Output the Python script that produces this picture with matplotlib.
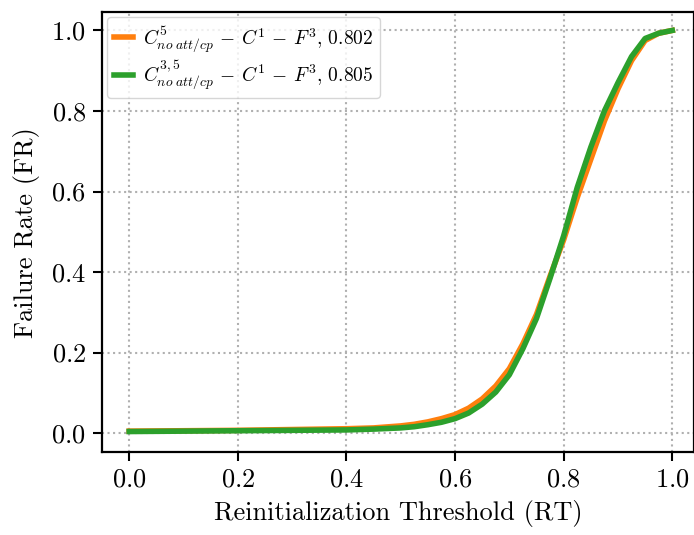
import matplotlib
matplotlib.use("Agg")
import matplotlib.pyplot as plt

plt.rcParams["font.family"] = "serif"
plt.rcParams["font.serif"] = ["cmr10", "DejaVu Serif"]
plt.rcParams["mathtext.fontset"] = "cm"
plt.rcParams["axes.formatter.use_mathtext"] = True

# reinitialization thresholds
rt = [0.0, 0.05, 0.1, 0.15, 0.2, 0.25, 0.3, 0.35, 0.4, 0.45, 0.5, 0.525, 0.55,
      0.575, 0.6, 0.625, 0.65, 0.675, 0.7, 0.725, 0.75, 0.775, 0.8, 0.825,
      0.85, 0.875, 0.9, 0.925, 0.95, 0.975, 1.0]

fr_c5 = [0.005, 0.0055, 0.006, 0.0065, 0.007, 0.008, 0.009, 0.010, 0.011, 0.013,
         0.018, 0.022, 0.028, 0.036, 0.046, 0.062, 0.085, 0.117, 0.160, 0.222,
         0.295, 0.390, 0.480, 0.585, 0.680, 0.775, 0.855, 0.925, 0.975, 0.993, 1.0]

fr_c35 = [0.004, 0.0045, 0.005, 0.0055, 0.006, 0.0065, 0.007, 0.0075, 0.008, 0.010,
          0.013, 0.016, 0.021, 0.027, 0.036, 0.050, 0.072, 0.102, 0.145, 0.210,
          0.285, 0.385, 0.490, 0.610, 0.710, 0.800, 0.870, 0.935, 0.980, 0.993, 1.0]

labels = [
    r"$C^{5}_{no\ att/cp}\,-\,C^{1}\,-\,F^{3}$, 0.802",
    r"$C^{3,5}_{no\ att/cp}\,-\,C^{1}\,-\,F^{3}$, 0.805",
]
colors = ["#ff7f0e", "#2ca02c"]

fig = plt.figure(figsize=(6.94, 5.35), dpi=100)
ax = fig.add_axes([0.147, 0.155, 0.853, 0.822])

for fr, label, color in zip([fr_c5, fr_c35], labels, colors):
    ax.plot(rt, fr, color=color, linewidth=4, label=label)

ax.set_xlim(-0.05, 1.04)
ax.set_ylim(-0.047, 1.045)
ax.set_xticks([0.0, 0.2, 0.4, 0.6, 0.8, 1.0])
ax.set_yticks([0.0, 0.2, 0.4, 0.6, 0.8, 1.0])
ax.tick_params(labelsize=19, width=1.5, length=6.5, pad=5)
ax.grid(True, linestyle=":", color="#b0b0b0", linewidth=1.5)
for spine in ax.spines.values():
    spine.set_linewidth(1.6)

ax.set_xlabel("Reinitialization Threshold (RT)", fontsize=19, labelpad=6)
ax.set_ylabel("Failure Rate (FR)", fontsize=19, labelpad=8)
ax.legend(loc="upper left", fontsize=14, handlelength=1.0, borderpad=0.35,
          labelspacing=0.25, handletextpad=0.5, borderaxespad=0.25)

fig.savefig("out.png", dpi=100)
